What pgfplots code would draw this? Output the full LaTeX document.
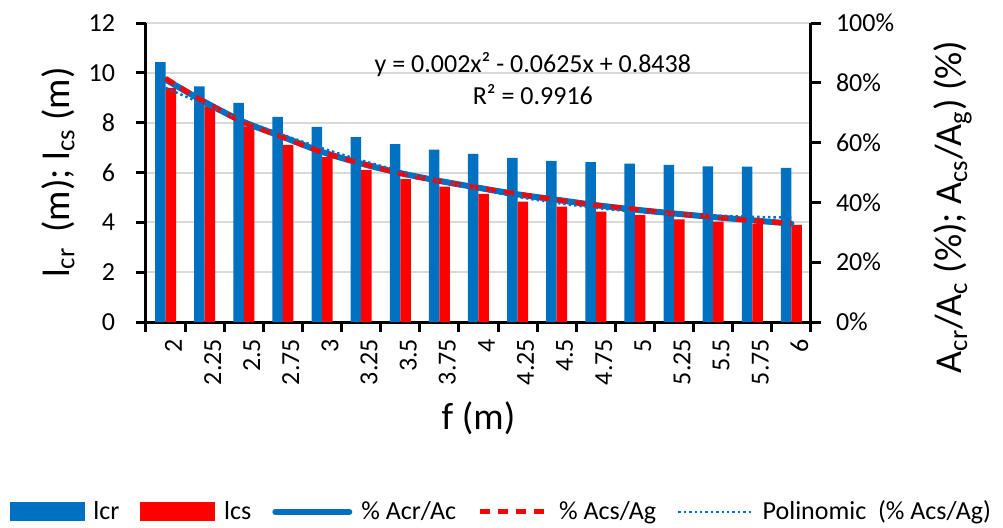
\documentclass[border=0pt]{standalone}
\usepackage{fontspec}
\setmainfont{Carlito}
\usepackage{pgfplots}
\pgfplotsset{compat=1.18}
\definecolor{xblue}{RGB}{0,112,192}
\definecolor{xred}{RGB}{255,0,0}
\definecolor{xgrid}{RGB}{217,217,217}
\pgfplotsset{
  lineleg/.style={legend image code/.code={\draw[##1] (0pt,0pt) -- (37pt,0pt);}},
  dashleg/.style={legend image code/.code={\draw[##1] (3pt,0pt) -- (37pt,0pt);}},
  blueleg/.style={legend image code/.code={\fill[xblue] (0pt,-4.5pt) rectangle (37pt,4.5pt);}},
  redleg/.style={legend image code/.code={\fill[xred] (0pt,-4.5pt) rectangle (37pt,4.5pt);}},
}
\begin{document}
\begin{tikzpicture}
\path[use as bounding box] (-73pt,-102.5pt) rectangle (428.5pt,161pt);
\pgfplotsset{
  common/.style={
    at={(0,0)}, anchor=south west,
    scale only axis, width=332.5pt, height=149.5pt,
    xmin=-0.5, xmax=16.5,
    axis line style={line width=1.5pt, black, -},
    every tick/.style={black, line width=1.5pt},
    tick align=outside, major tick length=5pt, minor tick length=5pt,
    ticklabel style={font=\fontsize{13}{15}\selectfont},
    /pgf/number format/assume math mode=true,
    label style={font=\fontsize{19}{22}\selectfont},
  }
}
\begin{axis}[common,
  ymin=0, ymax=12, ytick={0,2,...,12},
  axis x line*=bottom, axis y line*=left,
  ymajorgrids, grid style={xgrid, line width=1pt},
  xtick={0,...,16},
  xticklabels={2,2.25,2.5,2.75,3,3.25,3.5,3.75,4,4.25,4.5,4.75,5,5.25,5.5,5.75,6},
  major x tick style={draw=none},
  minor xtick={-0.5,0.5,...,16.5},
  xticklabel style={rotate=90, anchor=east, yshift=-4pt},
  yticklabel style={xshift=-7pt},
  ybar=0pt, bar width=5.25pt,
  xlabel={f (m)},
  xlabel style={at={(axis description cs:0.5,-0.321)}, anchor=center},
  ylabel={l\textsubscript{cr}\, (m); l\textsubscript{cs} (m)},
  ylabel style={at={(axis description cs:-0.1323,0.5)}, anchor=center},
]
\addplot[fill=xblue, draw=none] coordinates {
 (0,10.43) (1,9.46) (2,8.79) (3,8.23) (4,7.83) (5,7.42) (6,7.14) (7,6.92) (8,6.75)
 (9,6.59) (10,6.47) (11,6.42) (12,6.36) (13,6.31) (14,6.25) (15,6.24) (16,6.19)};
\addplot[fill=xred, draw=none] coordinates {
 (0,9.40) (1,8.65) (2,7.85) (3,7.11) (4,6.62) (5,6.11) (6,5.73) (7,5.43) (8,5.14)
 (9,4.83) (10,4.63) (11,4.43) (12,4.30) (13,4.12) (14,4.03) (15,3.94) (16,3.90)};
\node[font=\fontsize{13}{15}\selectfont] at (axis cs:9.39,10.33) {y = 0.002x² - 0.0625x + 0.8438};
\node[font=\fontsize{13}{15}\selectfont] at (axis cs:9.39,9.13) {R² = 0.9916};
\end{axis}
\begin{axis}[common,
  ymin=0, ymax=1, ytick={0,0.2,...,1},
  yticklabels={0\%,20\%,40\%,60\%,80\%,100\%},
  axis x line=none, axis y line*=right,
  yticklabel style={xshift=4pt},
  ylabel={A\textsubscript{cr}/A\textsubscript{c} (\%); A\textsubscript{cs}/A\textsubscript{g}) (\%)},
  ylabel style={at={(axis description cs:1.2135,0.385)}, anchor=center},
  legend columns=5,
  legend style={at={(axis description cs:0.535,-0.635)}, anchor=center, draw=none, fill=none,
    font=\fontsize{13}{15}\selectfont, nodes={inner sep=1.5pt},
    /tikz/every odd column/.append style={column sep=3pt},
    /tikz/every even column/.append style={column sep=9pt}},
  legend cell align=left,
]
\addlegendimage{blueleg}
\addlegendentry{lcr}
\addlegendimage{redleg}
\addlegendentry{lcs}
\addplot[xblue, line width=3pt, smooth, line cap=round, lineleg] coordinates {
 (0,0.811) (1,0.736) (2,0.669) (3,0.619) (4,0.569) (5,0.530) (6,0.498) (7,0.472) (8,0.449)
 (9,0.427) (10,0.409) (11,0.391) (12,0.376) (13,0.363) (14,0.351) (15,0.340) (16,0.329)};
\addlegendentry{\% Acr/Ac}
\addplot[xred, line width=2.5pt, smooth, dash pattern=on 5pt off 4pt, dashleg] coordinates {
 (0,0.815) (1,0.735) (2,0.668) (3,0.618) (4,0.568) (5,0.531) (6,0.497) (7,0.471) (8,0.448)
 (9,0.428) (10,0.408) (11,0.390) (12,0.377) (13,0.362) (14,0.352) (15,0.339) (16,0.330)};
\addlegendentry{\% Acs/Ag}
\addplot[xblue, line width=1.25pt, smooth, dash pattern=on 1.2pt off 1.5pt, lineleg] coordinates {
 (0,0.7833) (1,0.7268) (2,0.6743) (3,0.6258) (4,0.5813) (5,0.5408) (6,0.5043) (7,0.4718) (8,0.4433)
 (9,0.4188) (10,0.3983) (11,0.3818) (12,0.3693) (13,0.3608) (14,0.3560) (15,0.3520) (16,0.3490)};
\addlegendentry{Polinomic\ \ (\% Acs/Ag)}
\end{axis}
\end{tikzpicture}
\end{document}
